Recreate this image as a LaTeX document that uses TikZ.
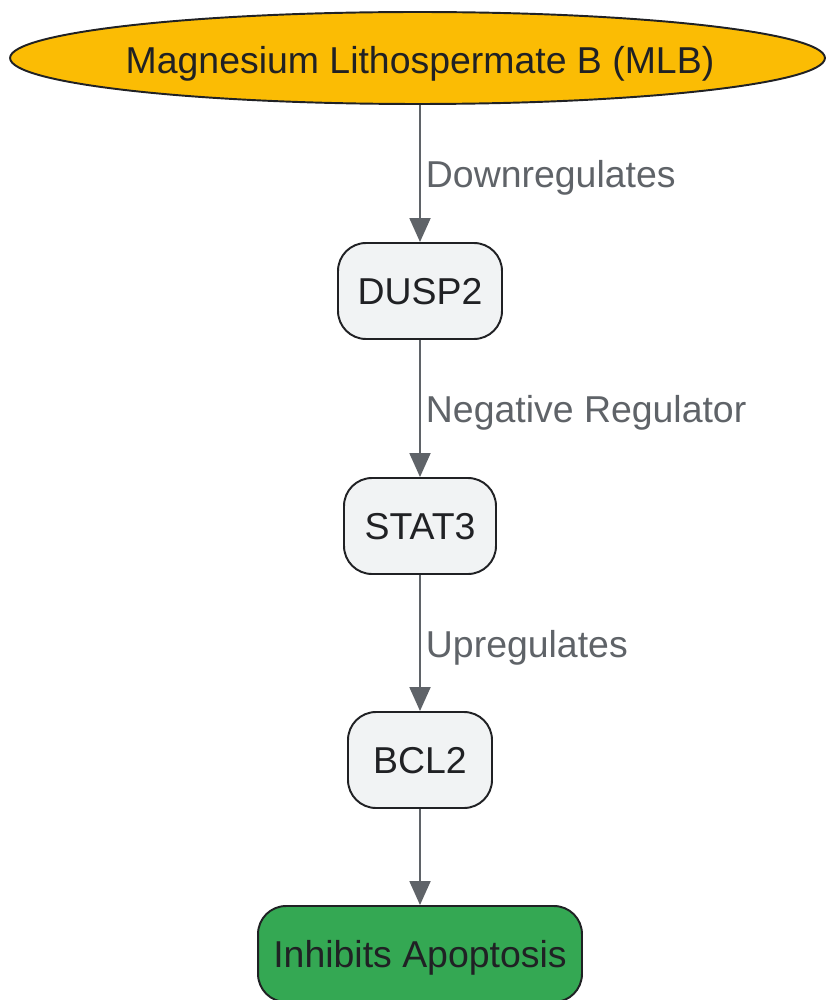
\documentclass[tikz,border=0pt]{standalone}
\usepackage{fontspec}
\setmainfont{Liberation Sans}
\usepackage{tikz}
\usetikzlibrary{arrows.meta, shapes.geometric, positioning}

\definecolor{mlbyellow}{HTML}{FBBC04}
\definecolor{outgreen}{HTML}{34A853}
\definecolor{boxgray}{HTML}{F1F3F4}
\definecolor{linegray}{HTML}{5F6368}
\definecolor{inkdark}{HTML}{202124}

\begin{document}
\begin{tikzpicture}[x=0.02cm, y=-0.02cm, font=\fontsize{21.3}{25}\selectfont]
	\tikzset{
		capline/.style={text height=15.2pt, text depth=0pt},
		gene/.style={draw=inkdark, line width=1.1pt, fill=boxgray, rounded corners=0.56cm,
			minimum height=1.92cm, inner xsep=0pt, text=inkdark, capline},
		result/.style={gene, fill=outgreen},
		link/.style={draw=linegray, line width=1.1pt, -{Triangle[length=0.48cm, width=0.42cm]}},
		linklabel/.style={midway, anchor=west, yshift=-0.09cm, text=linegray, inner sep=0.1cm},
	}
	\useasboundingbox (0,0) rectangle (825,1000);

	\node[ellipse, draw=inkdark, line width=1.1pt, fill=mlbyellow, minimum width=16.3cm,
		minimum height=1.84cm, inner sep=0pt, text=inkdark] (mlb) at (417.5,58) {};
	\node[text=inkdark, capline] (mlbtext) at (420,60) {Magnesium Lithospermate B (MLB)};
	\coordinate (mlbfoot) at (mlbtext |- mlb.south);

	\node[gene, minimum width=3.28cm] (dusp) at (420,291) {DUSP2};
	\node[gene, minimum width=3.04cm] (stat) at (420,526) {STAT3};
	\node[gene, minimum width=2.88cm] (bcl) at (420,760) {BCL2};
	\node[result, minimum width=6.48cm] (apop) at (420,954) {Inhibits Apoptosis};

	\draw[link] (mlbfoot) -- (dusp.north) node[linklabel] {Downregulates};
	\draw[link] (dusp) -- (stat) node[linklabel] {Negative Regulator};
	\draw[link] (stat) -- (bcl) node[linklabel] {Upregulates};
	\draw[link] (bcl) -- (apop);
\end{tikzpicture}
\end{document}
